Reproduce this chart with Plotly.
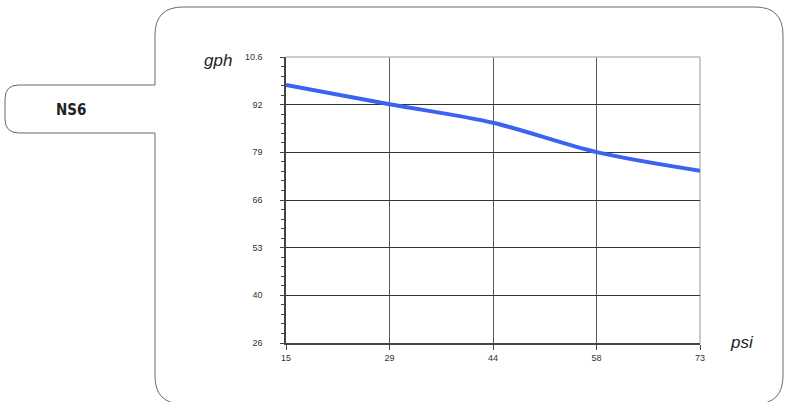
import plotly.graph_objects as go

# ---- data ----
psi = [15, 29.5, 44, 58.5, 73]
gph = [98.2, 92.8, 87.6, 79.4, 74.2]
x_tick_labels = ["15", "29", "44", "58", "73"]
y_tick_labels = ["26", "40", "53", "66", "79", "92", "10.6"]
series_name = "NS6"

X0, X1 = 15, 73
Y0, Y1 = 26, 106
x_tick_pos = [X0 + i * (X1 - X0) / (len(x_tick_labels) - 1) for i in range(len(x_tick_labels))]
y_step = (Y1 - Y0) / (len(y_tick_labels) - 1)
y_tick_pos = [Y0 + i * y_step for i in range(len(y_tick_labels))]
y_minor = [Y0 + j * y_step / 5 for j in range(0, 5 * (len(y_tick_labels) - 1) + 1) if j % 5]

# plot area in pixels
L, R, T, B = 286, 700, 57, 343
W, H = 785, 402
def xp(px):
    return (px - L) / (R - L)
def yp(py):
    return (B - py) / (B - T)

fig = go.Figure()
fig.add_trace(go.Scatter(
    x=psi, y=gph, mode="lines",
    line=dict(color="#3b63f0", width=4, shape="spline", smoothing=0.9),
    hoverinfo="x+y", showlegend=False,
))

# outer frame with tab
r, r2 = 28, 14
bx0, by0, bx1, by1 = 155, 7, 783, 404
tx0, ty0, ty1 = 5, 85, 133
pts = []
def P(cmd, *coords):
    s = cmd
    for i in range(0, len(coords), 2):
        s += f" {xp(coords[i]):.5f},{yp(coords[i+1]):.5f}"
    pts.append(s)
P("M", bx0, ty0)
P("L", bx0, by0 + r)
P("Q", bx0, by0, bx0 + r, by0)
P("L", bx1 - r, by0)
P("Q", bx1, by0, bx1, by0 + r)
P("L", bx1, by1 - r)
P("Q", bx1, by1, bx1 - r, by1)
P("L", bx0 + r, by1)
P("Q", bx0, by1, bx0, by1 - r)
P("L", bx0, ty1)
P("L", tx0 + r2, ty1)
P("Q", tx0, ty1, tx0, ty1 - r2)
P("L", tx0, ty0 + r2)
P("Q", tx0, ty0, tx0 + r2, ty0)
pts.append("Z")

shapes = [
    dict(type="path", xref="paper", yref="paper", path=" ".join(pts),
         line=dict(color="#6a6a6a", width=1), fillcolor="white", layer="below"),
    # light top & right frame of plot area
    dict(type="line", xref="paper", yref="paper", x0=0, x1=1, y0=1, y1=1,
         line=dict(color="#b8b8b8", width=1.5), layer="above"),
    dict(type="line", xref="paper", yref="paper", x0=1, x1=1, y0=0, y1=1,
         line=dict(color="#b8b8b8", width=1.5), layer="below"),
]

annotations = [
    dict(text="<b>" + series_name + "</b>", xref="paper", yref="paper", x=xp(71), y=yp(110),
         showarrow=False, font=dict(family="DejaVu Sans Condensed, DejaVu Sans", size=15, color="#222"),
         xanchor="center", yanchor="middle"),
    dict(text="<i>gph</i>", xref="paper", yref="paper", x=xp(218), y=yp(61),
         showarrow=False, font=dict(family="Liberation Sans, Arial", size=17, color="#222"),
         xanchor="center", yanchor="middle"),
    dict(text="<i>psi</i>", xref="paper", yref="paper", x=xp(742), y=yp(342),
         showarrow=False, font=dict(family="Liberation Sans, Arial", size=17, color="#222"),
         xanchor="center", yanchor="middle"),
]

tickfont = dict(family="Liberation Sans Narrow, Liberation Sans, Arial", size=9, color="#333")

fig.update_layout(
    width=W, height=H,
    margin=dict(l=L, r=W - R, t=T, b=H - B),
    paper_bgcolor="white", plot_bgcolor="rgba(0,0,0,0)",
    shapes=shapes, annotations=annotations,
    xaxis=dict(
        range=[X0, X1], tickmode="array", tickvals=x_tick_pos, ticktext=x_tick_labels,
        showgrid=True, gridcolor="#5a5a5a", gridwidth=1,
        showline=True, linecolor="#444", linewidth=1.5,
        ticks="outside", ticklen=5, tickcolor="#444",
        tickfont=tickfont, zeroline=False, fixedrange=True,
    ),
    yaxis=dict(
        range=[Y0, Y1], tickmode="array", tickvals=y_tick_pos, ticktext=y_tick_labels,
        showgrid=True, gridcolor="#333", gridwidth=1,
        showline=True, linecolor="#444", linewidth=1.5,
        ticks="outside", ticklen=4, tickcolor="#444",
        ticklabelstandoff=16,
        minor=dict(tickvals=y_minor, ticks="outside", ticklen=3, tickcolor="#444", showgrid=False),
        tickfont=tickfont, zeroline=False, fixedrange=True,
    ),
)

fig.write_html("out.html", config={"displayModeBar": False},
               post_script="document.body.style.margin='0';document.body.style.overflow='hidden';")
